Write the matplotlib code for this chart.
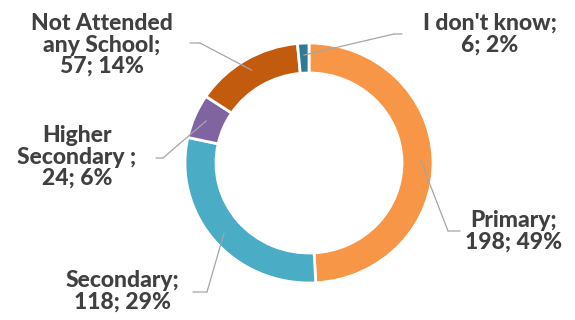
import numpy as np
import matplotlib
matplotlib.use("Agg")
from matplotlib import pyplot as plt

categories = ["Primary;", "Secondary;", "Higher\nSecondary ;", "Not Attended\nany School;", "I don't know;"]
counts = [198, 118, 24, 57, 6]
percents = [49, 29, 6, 14, 2]
colors = ["#F79646", "#4BACC6", "#8064A2", "#C25B0E", "#2C7C98"]

# label centres and leader stubs, in pixels from the top-left corner
label_pos = [(514, 231), (122, 291), (77, 157), (102, 45), (490, 34)]
stubs = [((460, 231), (448, 231)),
         ((193, 292), (207, 292)),
         ((156, 158), (163, 158)),
         ((190, 43), (200, 43)),
         ((402, 34), (394, 34))]

W, H = 575, 320
fig = plt.figure(figsize=(W / 100, H / 100), dpi=100)
ax = fig.add_axes([185 / W, 1 - 283 / H, 248 / W, 240 / H])

wedges, _ = ax.pie(counts, colors=colors, startangle=90, counterclock=False,
                   radius=1.0, wedgeprops=dict(width=0.25, edgecolor="white", linewidth=2))
ax.set_aspect("auto")
ax.set_xlim(-1, 1)
ax.set_ylim(-1, 1)
ax.axis("off")

text_color = "#404040"
line_color = "#A6A6A6"
for w, cat, n, pct, (tx, ty), (s0, s1) in zip(wedges, categories, counts, percents, label_pos, stubs):
    fig.text(tx / W, 1 - ty / H, f"{cat}\n{n}; {pct}%", ha="center", va="center",
             fontsize=16.5, fontweight=900, family="Lato", color=text_color,
             linespacing=1.02)
    mid = np.deg2rad((w.theta1 + w.theta2) / 2)
    px, py = 0.9 * np.cos(mid), 0.9 * np.sin(mid)
    ax.annotate("", xy=(s1[0], H - s1[1]), xycoords="figure pixels",
                xytext=(s0[0], H - s0[1]), textcoords="figure pixels",
                arrowprops=dict(arrowstyle="-", color=line_color, lw=0.9, shrinkA=0, shrinkB=0))
    ax.annotate("", xy=(px, py), xycoords="data",
                xytext=(s1[0], H - s1[1]), textcoords="figure pixels",
                arrowprops=dict(arrowstyle="-", color=line_color, lw=0.9, shrinkA=0, shrinkB=0))

fig.savefig("out.png", dpi=100, facecolor="white")
